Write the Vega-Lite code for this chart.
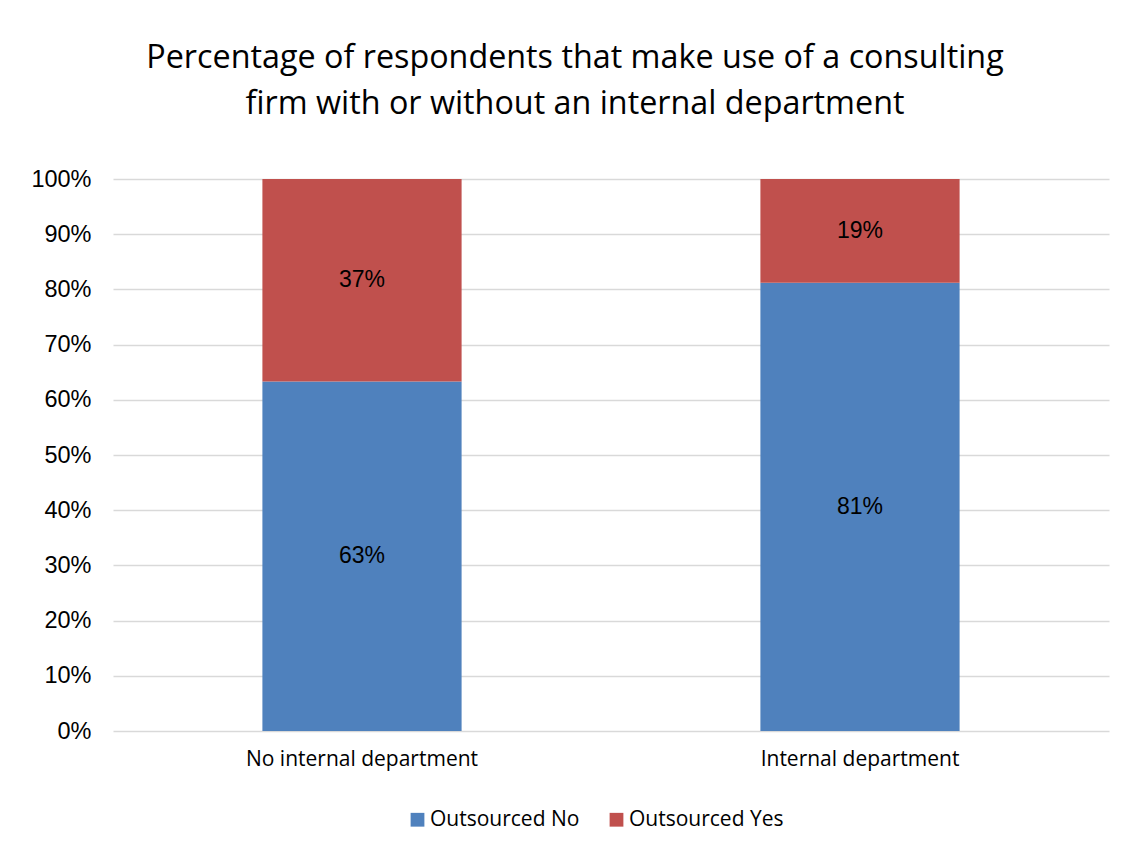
{
  "$schema": "https://vega.github.io/schema/vega-lite/v6.json",
  "autosize": {"type": "none"},
  "width": 996,
  "height": 552,
  "padding": {"left": 113, "top": 179, "right": 31, "bottom": 133},
  "background": "white",
  "title": {
    "text": ["Percentage of respondents that make use of a consulting", "firm with or without an internal department"],
    "font": "Open Sans",
    "fontSize": 32.3,
    "fontWeight": "normal",
    "color": "#000000",
    "lineHeight": 46,
    "anchor": "middle",
    "dx": -36,
    "offset": 47
  },
  "data": {
    "values": [
      {"category": "No internal department", "outsourced": "Outsourced No", "ord": 1, "pct": 0.633},
      {"category": "No internal department", "outsourced": "Outsourced Yes", "ord": 2, "pct": 0.367},
      {"category": "Internal department", "outsourced": "Outsourced No", "ord": 1, "pct": 0.812},
      {"category": "Internal department", "outsourced": "Outsourced Yes", "ord": 2, "pct": 0.188}
    ]
  },
  "config": {
    "view": {"stroke": null},
    "axis": {"grid": false}
  },
  "encoding": {
    "x": {
      "field": "category",
      "type": "nominal",
      "sort": ["No internal department", "Internal department"],
      "scale": {"paddingInner": 0.6, "paddingOuter": 0.3},
      "axis": {
        "title": null,
        "labelAngle": 0,
        "labelFont": "Open Sans",
        "labelFontSize": 21,
        "labelColor": "#000000",
        "labelPadding": 17,
        "labelLimit": 0,
        "ticks": false,
        "domain": false
      }
    }
  },
  "layer": [
    {
      "mark": {"type": "bar"},
      "encoding": {
        "y": {
          "field": "pct",
          "type": "quantitative",
          "stack": "zero",
          "scale": {"domain": [0, 1]},
          "axis": {
            "title": null,
            "format": ".0%",
            "values": [0, 0.1, 0.2, 0.3, 0.4, 0.5, 0.6, 0.7, 0.8, 0.9, 1],
            "labelFont": "Liberation Sans",
            "labelFontSize": 23.5,
            "labelColor": "#000000",
            "labelPadding": 22,
            "ticks": false,
            "domain": false,
            "grid": true,
            "gridColor": "#d9d9d9",
            "gridWidth": 1.5
          }
        },
        "color": {
          "field": "outsourced",
          "type": "nominal",
          "scale": {"domain": ["Outsourced No", "Outsourced Yes"], "range": ["#4f81bd", "#c0504d"]},
          "legend": {
            "title": null,
            "orient": "none",
            "legendX": 294,
            "legendY": 630,
            "direction": "horizontal",
            "symbolType": "square",
            "symbolSize": 190,
            "symbolStrokeWidth": 0,
            "labelFont": "Open Sans",
            "labelFontSize": 21,
            "labelColor": "#000000",
            "labelOffset": 2,
            "columnPadding": 26
          }
        },
        "order": {"field": "ord", "type": "quantitative", "sort": "ascending"}
      }
    },
    {
      "transform": [
        {"stack": "pct", "groupby": ["category"], "sort": [{"field": "ord", "order": "ascending"}], "as": ["y0", "y1"]},
        {"calculate": "(datum.y0 + datum.y1) / 2", "as": "mid"}
      ],
      "mark": {"type": "text", "font": "Liberation Sans", "fontSize": 23, "color": "#000000", "baseline": "middle"},
      "encoding": {
        "y": {"field": "mid", "type": "quantitative"},
        "text": {"field": "pct", "type": "quantitative", "format": ".0%"}
      }
    }
  ]
}
